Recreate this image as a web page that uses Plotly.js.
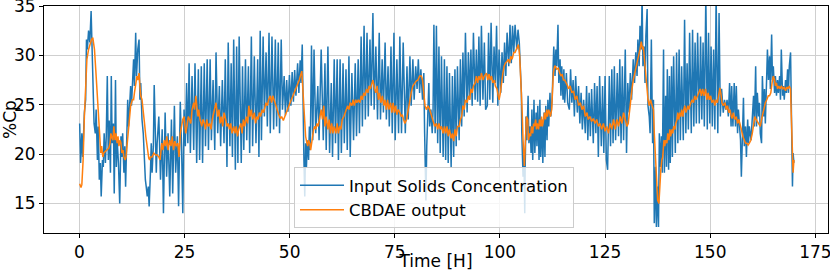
<!DOCTYPE html>
<html>
<head>
<meta charset="utf-8">
<script src="https://cdn.plot.ly/plotly-3.0.1.min.js"></script>
<style>html,body{margin:0;padding:0;background:#fff;}#chart{width:830px;height:271px;}</style>
</head>
<body>
<div id="chart"></div>
<script>
// ---- data ----
const blueTime = [
0.08,0.3,0.6,0.8,1.2,1.5,1.7,1.9,2.2,2.5,2.8,3.0,3.2,3.5,3.8,4.0,4.3,4.5,4.75,5.0,
5.2,5.5,5.7,5.9,6.2,6.4,6.65,6.9,7.1,7.4,7.6,7.8,8.1,8.3,8.6,8.8,9.0,9.3,9.6,9.9,
10.1,10.3,10.6,10.8,11.0,11.2,11.5,11.7,12.0,12.2,12.4,12.7,12.9,13.1,13.4,13.6,13.9,14.2,14.4,14.6,
14.9,15.2,15.4,15.7,15.9,16.15,16.4,16.6,16.9,17.1,17.3,17.6,17.8,18.1,18.3,18.5,
18.9,19.3,19.7,20.0,20.4,20.75,21.1,21.5,21.9,22.2,22.6,22.9,23.3,23.6,24.0,24.3,24.6,24.9,25.2,25.5,
25.8,26.1,26.4,26.8,27.2,27.5,27.9,28.3,28.6,29.0,29.3,29.7,30.0,30.4,30.7,31.1,31.4,31.8,32.2,32.5,
32.9,33.3,33.6,34.0,34.4,34.7,35.1,35.4,35.8,36.1,36.4,36.7,37.1,37.4,37.7,38.0,
38.5,38.8,39.1,39.5,39.8,40.2,40.5,40.9,41.2,41.6,42.0,42.4,42.7,43.0,43.3,43.7,44.0,44.4,44.7,45.1,
45.4,45.8,46.2,46.6,46.9,47.3,47.6,48.0,48.3,48.7,49.0,49.3,49.6,49.95,50.3,50.6,50.9,51.2,51.5,51.9,
52.2,52.5,52.7,53.0,53.2,53.4,53.6,53.8,54.0,54.2,54.5,54.7,54.9,55.2,55.5,55.8,56.2,56.7,57.0,57.5,
58.0,58.4,58.7,59.1,59.5,59.9,60.2,60.6,60.9,61.3,61.6,62.0,62.3,62.7,63.0,63.4,63.7,64.1,64.4,64.8,
65.2,65.6,65.9,66.3,66.6,67.0,67.3,67.7,68.0,68.4,68.7,69.1,69.4,69.8,70.1,70.5,70.9,71.3,71.6,72.0,
72.3,72.7,73.0,73.4,73.7,74.1,74.4,74.8,75.1,75.5,75.9,76.2,76.6,77.0,
77.5,77.9,78.2,78.6,78.9,79.3,79.6,79.97,80.3,80.6,80.9,81.2,81.6,81.9,82.1,82.3,82.4,82.6,82.8,83.1,
83.3,83.6,83.9,84.1,84.3,84.6,84.9,85.2,85.5,85.8,86.1,86.5,86.8,87.1,87.4,87.7,88.0,88.4,88.7,89.0,
89.3,89.6,89.9,90.3,90.6,90.9,91.2,91.5,91.8,92.2,92.5,92.8,93.1,93.4,93.7,94.1,94.4,94.7,95.0,95.3,
95.6,95.96,96.3,96.6,
97.0,97.3,97.6,97.9,98.3,98.6,98.9,99.2,99.5,99.8,100.2,100.5,100.8,101.1,101.4,101.7,102.1,102.4,102.7,103.0,
103.3,103.6,104.0,104.3,104.6,104.8,105.1,105.2,105.4,105.5,105.7,105.9,106.0,106.2,106.4,106.7,106.9,107.2,107.4,107.6,
107.8,108.1,108.3,108.6,108.8,109.0,109.3,109.5,109.7,110.0,110.2,110.5,110.7,110.9,111.2,111.4,111.6,111.9,112.1,112.4,
112.6,112.8,113.1,113.3,113.5,113.8,114.0,114.3,114.5,114.7,115.0,115.2,115.4,115.8,116.1,
116.5,116.8,117.1,117.4,117.7,118.0,118.4,118.7,119.0,119.3,119.6,119.9,120.3,120.6,120.9,121.2,121.5,121.8,122.2,122.5,
122.8,123.1,123.4,123.7,124.1,124.4,124.7,125.0,125.3,125.6,126.0,126.3,126.6,126.9,127.2,127.5,127.9,128.2,128.5,128.8,
129.1,129.4,129.8,130.1,130.4,130.7,131.0,131.3,131.7,132.0,132.3,132.6,132.8,133.1,133.3,133.6,133.8,134.0,134.3,134.5,
134.7,135.0,135.2,135.5,
135.7,136.0,136.3,136.5,136.7,137.0,137.2,137.5,137.7,137.9,138.2,138.4,138.6,138.9,139.1,139.4,139.6,139.8,140.1,140.3,
140.5,140.8,141.0,141.3,141.7,142.0,142.3,142.6,142.9,143.2,143.6,143.9,144.2,144.5,144.8,145.1,145.5,145.8,
146.1,146.4,146.7,147.0,147.4,147.7,148.0,148.3,148.6,148.95,149.3,149.6,149.9,150.2,150.5,150.8,151.1,151.4,151.8,152.1,
152.4,152.7,153.1,153.4,153.7,154.0,154.3,154.6,154.96,
155.1,155.4,155.7,156.0,156.2,156.5,156.7,157.0,157.2,157.4,157.7,157.9,158.1,158.4,158.6,158.9,159.1,159.3,159.7,160.0,
160.3,160.5,160.8,161.0,161.2,161.5,161.7,161.9,162.2,162.4,162.7,162.9,163.1,163.4,163.6,163.85,164.1,164.3,164.6,164.8,
165.0,165.3,165.5,165.75,166.0,166.2,166.5,166.7,166.9,167.2,167.4,167.6,167.9,168.1,168.4,168.6,168.8,169.1,169.2,169.4,
169.55,169.7,169.9
];
const blueValue = [
23.1,19.1,22.1,19.7,24.2,25.5,31.6,30.6,32.5,31.3,34.5,30.3,28.2,23.1,22.1,24.5,19.4,22.8,17.4,19.1,
15.7,19.4,18.7,22.1,19.1,21.8,27.9,19.4,23.4,18.1,27.9,21.1,23.1,16.0,27.5,18.7,21.4,19.1,15.0,21.8,
19.7,22.1,18.1,20.8,16.7,19.7,25.5,22.8,24.9,26.9,24.9,27.5,29.6,26.9,32.3,27.9,30.6,31.6,25.5,27.2,
23.5,22.1,19.7,17.4,16.7,15.7,16.7,14.7,18.1,21.1,18.1,20.8,27.0,22.1,18.1,21.1,
23.8,17.4,22.5,14.0,24.2,17.7,22.1,15.7,23.5,16.0,24.9,18.1,21.8,14.7,25.3,20.8,14.0,24.5,20.8,27.2,
21.1,29.2,20.1,27.9,20.4,29.2,19.1,28.6,19.4,28.9,19.1,29.2,20.8,29.6,20.4,29.6,21.4,27.5,20.4,30.3,
22.1,26.9,20.8,27.5,21.1,29.6,18.7,31.3,20.8,29.2,19.7,31.6,18.4,30.9,19.1,31.9,
19.1,28.9,20.4,29.6,21.4,28.9,20.1,31.9,20.8,29.9,21.1,29.6,19.7,32.5,21.4,31.9,23.8,30.3,22.8,32.3,
22.1,31.9,22.5,31.6,22.8,31.3,22.1,31.6,24.5,27.9,23.9,27.5,24.3,28.0,24.9,28.3,25.3,28.5,25.9,29.2,
26.2,29.5,27.2,31.1,23.5,19.4,15.7,21.1,18.7,21.4,19.4,22.8,20.4,31.0,21.4,30.6,22.1,26.9,21.4,30.6,
21.4,29.2,20.4,30.9,20.1,27.2,19.7,29.6,21.1,29.6,19.4,29.6,20.1,29.2,21.1,28.6,20.4,29.9,19.7,28.2,
21.4,29.2,21.8,29.6,22.1,31.9,22.8,33.0,23.5,32.3,23.8,31.6,24.9,34.3,24.5,30.9,23.5,32.3,23.5,29.6,
24.2,31.3,23.5,28.9,22.8,30.9,22.1,32.3,21.4,29.6,22.1,31.9,22.1,31.3,
22.1,28.9,23.5,29.9,24.9,29.6,25.5,28.9,26.6,29.6,26.2,28.6,25.5,28.2,22.1,18.7,15.3,20.8,24.5,27.2,
22.8,24.5,22.1,24.5,33.1,22.1,33.0,21.1,30.9,20.1,29.9,19.7,29.6,19.4,28.9,19.1,28.2,18.7,27.9,19.7,
28.6,20.8,28.9,21.4,29.6,22.8,30.3,23.8,32.3,24.2,30.3,25.5,30.6,24.9,32.3,25.5,30.6,25.3,31.9,24.9,
33.0,25.5,31.3,24.5,
24.9,32.3,25.5,33.3,25.2,30.9,27.2,33.0,24.9,30.6,26.2,30.3,27.2,31.3,27.9,32.3,28.9,33.1,29.2,33.0,
30.3,33.1,30.6,32.6,31.3,28.9,26.2,22.1,19.1,17.7,20.1,14.0,18.7,23.8,21.4,25.9,21.1,22.8,20.1,24.5,
19.4,25.5,20.1,24.2,20.8,24.9,19.4,25.5,19.7,23.5,19.1,24.2,19.7,24.9,21.4,25.5,22.8,26.2,23.8,25.5,
28.2,30.9,27.9,30.6,28.9,33.1,27.2,29.6,25.9,28.9,25.5,28.6,25.2,28.2,25.2,
24.5,28.6,25.2,27.5,23.8,27.9,24.2,26.9,23.1,26.2,22.5,25.5,22.1,26.9,21.4,26.2,21.8,26.6,21.1,27.2,
22.1,26.9,19.7,27.9,20.8,26.9,20.1,27.9,19.4,18.4,27.9,20.8,28.6,21.1,28.9,21.4,28.2,21.8,29.6,21.1,
28.9,21.4,30.6,20.1,27.2,24.2,28.2,25.5,29.6,27.2,30.3,27.9,31.6,28.9,33.0,30.6,36.0,28.9,30.9,27.2,
32.0,34.7,24.9,23.8,
22.1,31.6,21.1,25.5,13.0,18.7,12.6,16.7,12.6,22.1,18.7,21.8,18.1,30.6,18.1,25.9,18.7,28.6,18.4,27.9,
19.1,28.9,19.7,29.9,20.1,30.3,21.1,30.6,21.4,28.9,21.4,33.6,22.1,29.2,22.5,32.3,22.1,32.6,
22.8,31.3,23.1,32.3,23.1,31.9,23.5,31.3,22.8,36.0,22.5,32.3,23.1,30.9,22.8,30.6,22.5,36.0,22.1,34.3,
23.8,26.6,24.2,25.5,24.5,25.5,23.8,27.2,22.8,
26.9,22.8,27.2,22.8,26.9,22.1,24.5,21.8,21.4,17.7,22.1,25.7,20.8,22.8,19.7,23.5,21.1,22.8,21.4,23.8,
25.9,22.8,28.9,22.8,26.2,23.8,25.2,22.1,21.1,27.9,23.8,26.6,23.1,27.5,30.6,27.5,29.9,26.6,32.1,27.5,
28.9,26.2,27.9,25.9,27.5,26.2,27.9,25.5,30.6,25.9,26.9,25.5,27.5,26.2,28.6,26.2,28.9,30.3,25.5,19.7,
16.7,20.1,19.1
];

const cbdaeTime = [
0.08,0.4,0.6,0.9,1.2,1.5,1.8,2.2,2.6,2.9,3.2,3.6,3.9,4.2,4.4,4.6,4.8,5.1,5.3,5.6,
5.8,6.2,6.6,7.0,7.3,7.5,7.8,8.0,8.2,8.5,8.7,9.0,9.2,9.4,9.7,9.9,10.1,10.4,10.6,10.9,
11.1,11.3,11.6,11.9,12.2,12.6,12.9,13.1,13.5,13.7,13.9,14.2,14.4,14.6,14.9,15.2,15.5,15.8,16.2,16.5,
16.7,16.9,17.3,17.7,18.1,
18.5,18.9,19.2,19.6,19.9,20.2,20.5,20.8,21.1,21.5,21.8,22.1,22.4,22.7,23.0,23.4,23.7,24.0,24.3,24.6,
24.9,25.3,25.6,25.9,26.2,26.5,26.8,27.2,27.4,27.7,27.95,28.2,28.4,28.7,29.1,29.4,29.7,30.0,30.3,30.6,
31.0,31.3,31.6,31.9,32.2,32.5,32.9,33.2,33.5,33.8,34.1,34.4,34.8,35.1,35.4,35.7,36.0,36.3,36.7,37.0,
37.3,37.6,37.9,
38.4,38.7,39.0,39.3,39.7,40.0,40.3,40.6,40.9,41.2,41.6,41.9,42.2,42.5,42.8,43.1,43.5,43.8,44.1,44.4,
44.7,45.0,45.4,45.7,46.0,46.3,46.6,47.0,47.4,47.8,48.1,48.5,48.9,49.3,49.7,50.1,50.5,50.9,51.3,51.7,
52.0,52.3,52.6,52.9,53.1,53.4,53.6,53.8,54.1,54.3,54.5,54.8,55.0,55.3,55.5,55.7,56.0,56.2,56.5,56.8,
57.2,
57.5,57.8,58.1,58.4,58.7,59.1,59.4,59.7,60.0,60.3,60.6,61.0,61.3,61.6,61.9,62.2,62.5,62.9,63.2,63.5,
63.8,64.1,64.4,64.8,65.1,65.4,65.7,66.0,66.3,66.7,67.0,67.3,67.6,67.9,68.3,68.6,68.9,69.2,69.5,69.8,
70.2,70.5,70.8,71.1,71.4,71.7,72.05,72.4,72.7,73.0,73.3,73.6,74.0,74.3,74.6,74.9,75.2,75.5,75.8,76.2,
76.5,76.8,77.1,
77.4,77.8,78.2,78.5,78.9,79.3,79.7,80.1,80.5,80.9,81.3,81.6,81.9,82.2,82.5,82.9,83.3,83.7,84.1,84.5,
84.9,85.2,85.5,85.8,86.1,86.5,86.8,87.1,87.4,87.7,88.0,88.4,88.7,89.0,89.3,89.6,89.9,90.3,90.6,90.9,
91.2,91.5,91.8,92.2,92.5,92.8,93.1,93.4,93.7,94.1,94.4,94.7,95.0,95.3,95.6,95.96,96.3,
96.8,97.1,97.4,97.7,98.0,98.3,98.7,98.9,99.3,99.6,99.8,100.1,100.4,100.7,101.0,101.3,101.7,102.0,102.3,102.6,
102.9,103.3,103.6,103.9,104.2,104.4,104.7,104.9,105.2,105.3,105.5,105.6,105.8,105.9,106.1,106.3,106.6,106.8,107.05,107.3,
107.5,107.8,108.0,108.2,108.5,108.7,108.9,109.2,109.4,109.7,109.9,110.1,110.4,110.6,110.85,111.1,111.3,111.6,111.8,112.0,
112.3,112.5,112.7,113.0,113.2,113.5,113.9,114.2,114.5,114.8,115.1,115.4,115.8,116.1,
116.3,116.7,117.1,117.5,117.9,118.3,118.7,119.1,119.5,119.9,120.3,120.7,121.0,121.4,121.8,122.2,122.6,123.0,123.4,123.8,
124.2,124.6,125.0,125.4,125.8,126.2,126.6,127.0,127.4,127.8,128.2,128.6,129.0,129.4,129.8,130.2,130.5,130.8,131.1,131.4,
131.7,132.05,132.4,132.7,133.0,133.3,133.6,133.9,134.1,134.3,134.6,134.9,135.2,135.5,
135.8,136.2,136.5,136.7,137.0,137.2,137.5,137.8,138.0,138.25,138.5,138.7,139.0,139.2,139.4,139.7,139.9,140.2,140.4,140.6,
140.9,141.1,141.3,141.6,141.8,142.1,142.3,142.5,142.8,143.0,143.2,143.5,143.7,143.95,144.2,144.4,144.7,144.9,145.1,145.4,
145.7,146.0,146.3,146.6,147.0,147.3,147.6,147.9,148.2,148.5,148.9,149.2,149.5,149.8,150.1,150.4,150.8,151.1,151.4,151.7,
152.0,152.3,152.6,152.8,153.1,153.5,153.8,154.1,154.4,154.7,155.0,
155.2,155.5,155.85,156.2,156.5,156.8,157.1,157.4,157.75,158.1,158.4,158.7,159.0,159.3,159.65,160.0,160.3,160.6,160.9,161.2,
161.6,161.9,162.2,162.5,162.8,163.1,163.45,163.8,164.1,164.4,164.7,165.0,165.3,165.5,165.75,166.0,166.3,166.6,166.9,167.25,
167.6,167.9,168.2,168.5,168.8,169.1,169.2,169.4,169.55,169.7,169.9
];
const cbdaeValue = [
17.0,16.6,16.9,19.4,23.8,27.2,29.6,30.6,31.3,31.6,31.8,30.6,28.6,26.2,25.2,23.5,21.4,20.1,20.8,19.7,
20.1,20.3,20.4,20.6,21.1,22.1,21.6,21.4,22.8,21.4,22.1,21.1,21.8,20.8,21.4,21.1,20.1,20.4,19.7,19.4,
19.7,20.8,22.1,23.5,24.9,25.5,25.5,26.2,27.2,27.9,27.5,28.2,26.9,25.9,25.5,24.5,23.1,21.8,20.4,19.6,
19.4,19.7,19.7,20.1,19.9,
19.9,19.7,19.4,21.1,20.4,21.4,20.8,21.8,20.4,21.4,20.8,21.8,20.4,21.3,20.8,21.1,19.7,22.1,23.1,23.5,
23.8,22.1,22.8,23.8,23.5,23.1,24.5,25.2,24.5,25.9,24.8,23.8,24.5,23.5,22.8,23.5,23.1,22.5,23.5,22.8,
23.1,22.5,23.5,24.2,24.5,25.2,23.8,24.5,23.1,23.8,22.8,24.2,23.5,22.8,23.1,22.5,23.1,22.1,22.8,22.1,
22.8,21.8,22.5,
23.1,22.1,23.5,22.8,23.8,23.1,24.9,23.8,24.5,23.5,24.2,23.1,23.8,23.5,24.2,23.8,24.5,24.2,24.9,25.2,
24.9,25.5,25.9,25.2,25.9,25.5,24.9,24.6,24.0,23.6,23.8,23.4,23.9,24.3,24.8,25.2,25.6,26.0,26.4,26.8,
27.1,27.5,28.0,28.4,26.9,24.9,23.1,21.8,21.1,20.8,21.4,21.1,20.4,21.4,21.8,22.5,22.8,22.5,23.1,22.8,
23.8,
24.5,23.5,24.9,22.8,23.8,22.5,23.5,22.1,23.1,22.1,22.8,22.1,23.1,22.1,22.8,22.5,23.5,23.8,24.2,24.5,
24.9,24.5,25.2,24.9,25.5,24.9,25.5,25.2,25.5,25.2,25.9,25.5,26.2,25.9,26.6,26.2,26.9,26.6,27.2,27.5,
26.6,26.2,26.9,25.5,26.2,25.2,25.9,24.9,25.5,24.5,25.5,24.5,25.2,24.2,25.2,24.2,24.9,24.0,24.5,24.2,
23.8,24.0,23.5,
23.1,23.5,24.5,25.5,26.2,26.9,27.2,27.4,27.5,27.9,27.9,27.5,26.2,24.9,24.5,24.9,24.5,24.0,23.5,22.8,
23.1,22.5,23.1,22.5,22.8,22.1,22.8,22.1,22.8,21.8,22.5,21.6,22.1,21.3,22.5,21.8,22.8,22.8,23.5,23.8,
24.9,24.5,25.5,25.2,25.9,25.5,26.6,26.2,26.9,27.2,27.9,27.2,27.9,27.5,28.2,27.5,27.9,
28.2,27.5,28.1,27.5,27.9,27.2,27.5,26.9,26.6,25.9,25.5,26.2,27.5,28.2,28.9,29.2,29.4,29.6,29.2,29.9,
29.6,30.3,30.3,30.6,30.9,31.1,29.9,28.2,25.9,24.2,21.4,19.6,18.8,19.7,22.8,23.8,23.5,21.4,22.1,21.8,
22.8,22.1,23.1,22.8,23.5,22.5,23.1,22.5,23.5,22.8,23.8,22.8,23.5,24.2,23.5,24.5,23.8,24.5,24.2,23.8,
24.5,26.6,28.2,28.9,28.9,28.6,28.7,28.2,27.9,28.1,27.5,27.5,27.2,26.9,
26.6,26.9,26.2,26.4,25.5,25.9,24.9,25.2,24.5,24.9,23.8,24.2,23.5,23.8,23.3,23.6,23.1,23.5,22.8,23.1,
22.5,23.1,22.3,22.8,22.1,23.1,22.5,23.5,22.5,23.5,22.8,23.8,23.1,24.2,23.5,22.8,23.1,24.5,25.5,26.6,
27.5,28.2,28.9,29.2,29.9,30.6,31.4,30.6,30.9,29.9,28.9,27.2,25.5,24.9,
25.5,24.9,24.5,22.1,19.4,16.7,15.3,15.0,16.7,18.4,19.4,19.7,21.4,20.8,21.4,21.1,22.1,21.4,22.5,21.8,
22.5,22.1,22.8,22.5,23.1,23.5,24.2,23.5,24.2,23.8,24.5,23.8,24.5,24.9,24.2,24.5,24.9,24.5,24.9,25.2,
25.5,25.2,25.9,25.5,25.9,26.2,26.6,25.9,26.6,25.9,26.6,25.5,26.2,25.5,25.9,25.2,25.5,24.9,25.5,25.2,
25.9,26.7,25.9,25.2,24.9,25.2,24.5,24.9,24.2,24.5,23.8,
23.6,24.2,23.5,23.8,23.1,23.5,22.8,22.5,21.8,21.4,21.1,21.1,20.9,21.1,21.4,22.1,23.1,23.8,23.5,23.3,
23.1,22.8,23.5,24.2,24.9,25.2,25.5,25.9,25.9,26.2,27.2,27.9,27.5,26.9,27.2,26.6,26.9,26.6,26.9,26.6,
26.8,26.4,26.8,26.6,26.9,26.6,24.9,21.4,18.7,18.1,19.4
];

const xTickValues = [0, 25, 50, 75, 100, 125, 150, 175];
const yTickValues = [15, 20, 25, 30, 35];
const seriesNames = ['Input Solids Concentration', 'CBDAE output'];

if (blueTime.length !== blueValue.length) throw new Error('blue length ' + blueTime.length + ' vs ' + blueValue.length);
if (cbdaeTime.length !== cbdaeValue.length) throw new Error('cbdae length ' + cbdaeTime.length + ' vs ' + cbdaeValue.length);

const traces = [
  {x: blueTime, y: blueValue, type: 'scatter', mode: 'lines', name: seriesNames[0],
   legendgroup: 'a', line: {color: '#1f77b4', width: 1.5}},
  {x: cbdaeTime, y: cbdaeValue, type: 'scatter', mode: 'lines', name: seriesNames[1],
   legendgroup: 'b', line: {color: '#ff7f0e', width: 1.5}}
];

const axisCommon = {
  showgrid: true, gridcolor: '#cfcfcf', gridwidth: 1,
  showline: true, mirror: true, linecolor: '#000', linewidth: 1,
  ticks: 'outside', ticklen: 4, tickwidth: 1, tickcolor: '#000',
  zeroline: false, automargin: false, ticklabeloverflow: 'allow',
  tickfont: {family: 'DejaVu Sans', size: 17, color: '#000'}
};

const layout = {
  width: 830, height: 271,
  margin: {l: 44, r: 2, t: 6, b: 38, pad: 0},
  paper_bgcolor: '#fff', plot_bgcolor: '#fff',
  font: {family: 'DejaVu Sans', size: 17, color: '#000'},
  showlegend: true,
  xaxis: Object.assign({}, axisCommon, {
    range: [-8.4, 178.0], tickmode: 'array', tickvals: xTickValues,
    title: {text: 'Time [H]', standoff: 1, font: {family: 'DejaVu Sans', size: 17, color: '#000'}}
  }),
  yaxis: Object.assign({}, axisCommon, {
    range: [12, 35], tickmode: 'array', tickvals: yTickValues,
    title: {text: '%Cp', standoff: 0, font: {family: 'DejaVu Sans', size: 17, color: '#000'}}
  }),
  legend: {
    x: (294 - 44) / 784, y: (233 - 167) / 227, xanchor: 'left', yanchor: 'top',
    bgcolor: 'rgba(255,255,255,0.8)', bordercolor: '#cccccc', borderwidth: 1,
    font: {family: 'DejaVu Sans', size: 16.5, color: '#000'},
    traceorder: 'normal', tracegroupgap: 4, itemwidth: 44
  }
};

Plotly.newPlot('chart', traces, layout, {staticPlot: true, displayModeBar: false});
</script>
</body>
</html>
